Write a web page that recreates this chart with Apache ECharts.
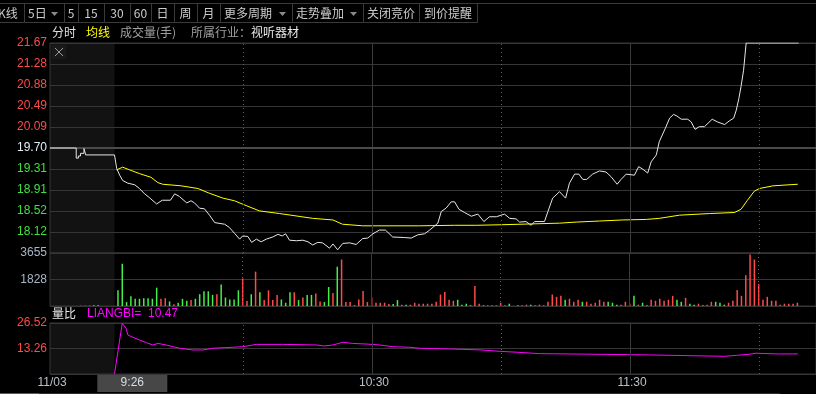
<!DOCTYPE html>
<html><head><meta charset="utf-8">
<script src="https://cdn.jsdelivr.net/npm/echarts@6/dist/echarts.min.js"></script>
<style>html,body{margin:0;padding:0;background:#000;}#c{width:816px;height:394px;}</style>
</head><body><div id="c"></div>
<script>
// ---------------- DATA ----------------
// x values are trading-minute indices: 0 = 9:15, 15 = 9:30, 135 = 11:30/13:00
const prevClose = 19.70;
const dateLabel = '11/03';
const cursorLabel = '9:26';
const cursorMin = 11;
const xTickMin = [75, 135];
const xTickLabels = ['10:30', '11:30'];
const solidLineMin = [75, 135];
const dottedLineMin = [45, 105, 165];
const auctionEndMin = 15;

// call-auction price (step)
const preT = [0, 6.1, 6.6, 7.1, 7.9, 8.3, 15];
const preV = [19.70, 19.51, 19.55, 19.60, 19.69, 19.57, 19.57];

// price
const priceT = [15,15.5,16.2,16.9,18.1,19.7,20.8,22.0,23.1,24.8,
26.1,28.0,29.0,30.1,31.8,32.8,33.6,34.8,35.9,37.1,
38.3,40.6,41.7,42.9,44.1,44.8,46.0,46.9,48.0,49.1,
50.3,51.8,53.0,54.0,54.8,55.7,57.3,58.8,60.0,61.1,
62.3,63.4,65.0,65.8,66.9,68.1,69.7,71.2,72.7,73.9,
75.1,76.6,78.0,79.7,82.4,84.0,85.5,87.1,88.3,90.2,
91.0,92.1,93.3,94.1,95.1,96.4,98.0,99.5,100.9,102.2,
103.8,105.7,106.9,108.4,109.2,110.7,111.9,112.7,115.0,115.8,
116.9,118.5,119.9,120.8,122.0,123.0,123.9,124.8,126.2,127.8,
129.3,130.5,131.9,132.8,134.0,135.9,136.9,137.9,139.0,139.8,
141.0,141.7,143.1,144.1,145.0,145.8,146.8,148.3,149.1,150.0,
151.0,152.2,154.0,155.2,156.9,158.0,159.0,159.6,160.2,160.7,
161.3,161.9,174.1];
const priceV = [19.57,19.32,19.19,19.09,19.04,19.01,18.94,18.84,18.77,18.65,
18.72,18.72,18.84,18.79,18.67,18.71,18.67,18.57,18.56,18.44,
18.30,18.27,18.21,18.10,17.99,18.05,18.04,17.93,17.99,17.94,
17.99,18.03,18.08,18.05,18.09,17.97,17.96,17.97,17.94,17.88,
17.93,17.92,17.82,17.90,17.79,17.91,17.92,17.89,18.00,18.01,
18.09,18.16,18.16,18.03,18.02,18.01,18.07,18.09,18.16,18.29,
18.51,18.57,18.69,18.69,18.55,18.49,18.42,18.46,18.32,18.41,
18.41,18.46,18.38,18.37,18.31,18.32,18.25,18.32,18.32,18.51,
18.76,18.88,18.76,19.04,19.21,19.21,19.11,19.11,19.21,19.27,
19.25,19.16,19.02,19.11,19.21,19.19,19.35,19.30,19.23,19.44,
19.57,19.82,20.07,20.26,20.33,20.30,20.24,20.24,20.19,20.05,
20.10,20.10,20.24,20.19,20.14,20.21,20.26,20.41,20.63,20.85,
21.16,21.67,21.67];

// average price
const avgT = [15.5,16.9,18.5,20.8,23.5,25.1,26.2,30.5,34.4,37.1,
40.2,42.9,45.6,48.7,53.4,61.1,65.8,68.0,72.7,85.9,
94.1,99.1,104.9,118.5,122.4,127.8,133.2,138.7,141.7,146.4,
153.4,159.2,160.7,162.2,163.8,165.0,168.1,173.9];
const avgV = [19.29,19.34,19.29,19.22,19.15,19.05,19.02,18.99,18.94,18.85,
18.76,18.71,18.62,18.52,18.47,18.38,18.35,18.27,18.24,18.24,
18.25,18.25,18.26,18.29,18.31,18.33,18.35,18.36,18.38,18.44,
18.47,18.49,18.55,18.72,18.89,18.94,18.99,19.02];

// volume (hands), one bar per minute starting at minute index volStart
const volStart = 16;
const volV = [1083,2911,271,677,496,496,542,542,496,1264,
496,542,316,113,226,496,361,406,496,812,
1015,1015,767,812,1489,587,451,451,1083,1895,
338,812,2369,948,406,1083,406,767,451,226,
948,948,406,587,767,767,857,316,271,1309,
903,2708,3204,271,271,45,451,1038,271,587,
226,226,226,135,135,406,90,90,90,226,
158,158,158,158,293,790,970,429,361,429,
90,158,50,1376,158,50,50,50,50,226,
50,158,0,50,50,90,90,50,90,50,
293,790,632,700,429,497,293,429,293,293,
158,226,429,293,293,226,90,90,293,158,
700,90,226,50,429,361,497,361,429,700,
429,293,564,158,90,158,50,90,293,293,
226,90,226,361,1105,700,2121,3543,3206,1512,
429,632,361,361,90,158,158,158,226];
const volUp = [0,0,0,0,0,0,0,0,0,0,
1,1,0,1,0,0,0,1,0,0,
0,0,0,1,0,0,0,0,0,1,
1,0,1,0,1,1,1,1,0,0,
0,1,0,1,0,0,1,1,0,0,
1,0,1,1,1,0,1,1,1,1,
1,1,1,1,0,0,1,0,1,1,
1,1,1,1,1,1,1,1,1,0,
0,0,0,1,1,0,1,1,1,1,
1,0,0,0,1,1,0,1,1,1,
1,1,1,1,0,1,1,1,0,1,
1,1,1,1,0,0,0,1,1,1,
0,1,0,0,1,1,1,1,1,1,
0,0,1,0,0,1,0,1,1,0,
0,0,1,1,1,1,1,1,1,1,
1,1,1,1,1,1,1,1,1];
const preVolT = [7, 8, 9, 10, 11];
const preVolV = [25, 25, 25, 45, 45];
const preVolUp = [2, 2, 2, 0, 0];

// volume ratio (LIANGBI)
const lbT = [15.0,16.8,17.1,17.7,18.1,19.3,20.8,22.4,23.9,25.1,
27.0,30.1,33.2,35.5,37.9,42.5,44.8,48.0,54.1,61.9,
63.8,65.8,68.1,70.4,73.5,76.6,79.7,83.6,85.9,93.3,
100.3,104.5,108.8,113.8,129.3,139.8,156.9,159.6,162.3,164.2,
169.7,173.9];
const lbV = [0,26.4,26.52,23.7,20.3,19.1,17.7,16.3,15.1,15.9,
15.1,13.4,12.5,12.5,13.4,13.9,14.2,15.4,15.4,15.1,
14.6,15.1,16.5,15.9,15.6,15.1,14.2,13.9,13.4,13.0,
12.5,11.8,11.3,10.6,10.2,9.9,9.2,9.7,10.2,10.8,
10.4,10.47];

// axis ranges
const priceMin = 17.73, priceMax = 21.67, priceStep = 0.394;
const volMax = 3655, volStep = 1827.5;
const lbMax = 26.52, lbStep = 13.26;

// toolbar
const toolbarItems = ['K线','5日','5','15','30','60','日','周','月','更多周期','走势叠加','关闭竞价','到价提醒'];
const subItems = ['分时','均线','成交量(手)','所属行业：','视听器材'];

// ---------------- CHART ----------------
const RED = '#ff4a4a', GREEN = '#44ee44', GRAY = '#9a9a9a';
const GRIDC = '#363636';
const NUMFONT = '"Liberation Sans", Arial, sans-serif';
const CJK = '"Noto Sans CJK SC", sans-serif';
const X_MAX = 766 / 4.3;

function pairs(t, v) { const o = []; for (let i = 0; i < Math.min(t.length, v.length); i++) o.push([t[i], v[i]]); return o; }
function vMark(extra) {
  const d = solidLineMin.map(m => ({ xAxis: m, lineStyle: { color: '#3a3a3a', width: 1, type: 'solid' } }))
    .concat(dottedLineMin.map(m => ({ xAxis: m, lineStyle: { color: '#5c5c5c', width: 1, type: [1, 3] } })));
  return { silent: true, symbol: ['none', 'none'], label: { show: false }, animation: false, data: d.concat(extra || []) };
}
const xBase = i => ({ type: 'value', gridIndex: i, min: 0, max: X_MAX, show: false });
const yCommon = {
  axisLine: { show: false }, axisTick: { show: false },
  splitLine: { show: true, lineStyle: { color: GRIDC, width: 1 } }
};

const volData = volV.map((v, i) => ({ value: [volStart + i, v], itemStyle: { color: volUp[i] ? RED : GREEN } }));
const preVolData = preVolV.map((v, i) => ({ value: [preVolT[i], v], itemStyle: { color: preVolUp[i] === 2 ? GRAY : (preVolUp[i] ? RED : GREEN) } }));

const chart = echarts.init(document.getElementById('c'));
chart.setOption({
  backgroundColor: '#000',
  animation: false,
  grid: [
    { left: 50, right: -1, top: 43, height: 210, show: true, borderColor: GRIDC, borderWidth: 1 },
    { left: 50, right: -1, top: 253, height: 53, show: true, borderColor: GRIDC, borderWidth: 1 },
    { left: 50, right: -1, top: 323, height: 51, show: true, borderColor: GRIDC, borderWidth: 1 }
  ],
  xAxis: [xBase(0), xBase(1), xBase(2)],
  yAxis: [
    Object.assign({ type: 'value', gridIndex: 0, min: priceMin, max: priceMax, interval: priceStep,
      axisLabel: { showMinLabel: false, margin: 3, fontSize: 12, fontFamily: NUMFONT, padding: [4, 0, 0, 0],
        formatter: v => v.toFixed(2),
        color: v => (v > prevClose + 0.005 ? RED : (v < prevClose - 0.005 ? '#3ee03e' : '#e4ecf6')) } }, yCommon),
    Object.assign({ type: 'value', gridIndex: 1, min: 0, max: volMax, interval: volStep,
      axisLabel: { showMinLabel: false, margin: 3, fontSize: 12, fontFamily: NUMFONT, padding: [4, 0, 0, 0], color: '#a9b6c6',
        formatter: v => String(Math.round(v)) } }, yCommon),
    Object.assign({ type: 'value', gridIndex: 2, min: 0, max: lbMax, interval: lbStep,
      axisLabel: { showMinLabel: false, margin: 3, fontSize: 12, fontFamily: NUMFONT, padding: [5, 0, 0, 0], color: RED,
        formatter: v => v.toFixed(2) } }, yCommon)
  ],
  series: [
    // reference lines only (drawn beneath the price lines)
    { type: 'line', xAxisIndex: 0, yAxisIndex: 0, data: pairs(preT, preV), showSymbol: false, z: 1,
      lineStyle: { opacity: 0 }, silent: true,
      markLine: vMark([{ yAxis: prevClose, lineStyle: { color: '#4a4a4a', width: 2, type: 'solid' } }]) },
    { type: 'line', xAxisIndex: 0, yAxisIndex: 0, data: pairs(preT, preV), step: 'end', showSymbol: false,
      lineStyle: { color: '#e6e6e6', width: 1 }, silent: true, z: 5 },
    { type: 'line', xAxisIndex: 0, yAxisIndex: 0, data: pairs(priceT, priceV), showSymbol: false,
      lineStyle: { color: '#e6e6e6', width: 1 }, silent: true, z: 5 },
    { type: 'line', xAxisIndex: 0, yAxisIndex: 0, data: pairs(avgT, avgV), showSymbol: false,
      lineStyle: { color: '#ffff00', width: 1 }, silent: true, z: 4 },
    { type: 'bar', xAxisIndex: 1, yAxisIndex: 1, data: volData, barWidth: 1.5, silent: true, markLine: vMark() },
    { type: 'bar', xAxisIndex: 1, yAxisIndex: 1, data: preVolData, barWidth: 1.5, silent: true },
    { type: 'line', xAxisIndex: 2, yAxisIndex: 2, data: pairs(lbT, lbV), showSymbol: false,
      lineStyle: { color: '#ff00ff', width: 1 }, silent: true, markLine: vMark() }
  ]
});

// ---------- graphics positioned through the axes ----------
const px = (m, g) => chart.convertToPixel({ xAxisIndex: g || 0 }, m);
const py = (v, g) => chart.convertToPixel({ yAxisIndex: g }, v);
const g = [];
const x0 = px(0), xA = px(auctionEndMin);
// auction shading
g.push({ type: 'rect', z: -10, silent: true, shape: { x: x0, y: py(priceMax, 0), width: xA - x0, height: py(0, 1) - py(priceMax, 0) }, style: { fill: '#121212' } });
g.push({ type: 'rect', z: -10, silent: true, shape: { x: x0, y: py(lbMax, 2), width: xA - x0, height: py(0, 2) - py(lbMax, 2) }, style: { fill: '#121212' } });
// close icon
g.push({ type: 'rect', z: -5, shape: { x: 52, y: 45, width: 14, height: 14 }, style: { fill: '#1a1a1a' } });
g.push({ type: 'line', shape: { x1: 55, y1: 48, x2: 63, y2: 56 }, style: { stroke: '#9a9a9a', lineWidth: 1 } });
g.push({ type: 'line', shape: { x1: 63, y1: 48, x2: 55, y2: 56 }, style: { stroke: '#9a9a9a', lineWidth: 1 } });

// toolbar
const btnEdges = [-4, 24, 64, 78, 104, 130, 151, 174, 197, 220, 292, 363, 419, 477];
const btnArrow = { 1: true, 9: true, 10: true };
g.push({ type: 'line', shape: { x1: 0, y1: 3.5, x2: 816, y2: 3.5 }, style: { stroke: '#3a3a3a', lineWidth: 1 } });
toolbarItems.forEach((t, i) => {
  const a = btnEdges[i], b = btnEdges[i + 1];
  g.push({ type: 'rect', shape: { x: a + 0.5, y: 3.5, width: b - a, height: 19 }, style: { fill: 'none', stroke: '#3a3a3a', lineWidth: 1 } });
  const arrow = btnArrow[i];
  const cx = i === 0 ? -2 : (arrow ? a + 4 : (a + b) / 2);
  g.push({ type: 'text', x: cx, y: 13.5, style: { text: t, fill: '#cccccc', font: '12px ' + CJK, align: (i === 0 || arrow) ? 'left' : 'center', verticalAlign: 'middle' } });
  if (arrow) g.push({ type: 'polygon', shape: { points: [[b - 13, 12], [b - 6, 12], [b - 9.5, 16]] }, style: { fill: '#8a8a8a' } });
});
// sub header
const subX = [52, 86, 120, 191, 251];
const subC = ['#e0e0e0', '#ffff00', '#a0a0a0', '#a0a0a0', '#e8e8e8'];
subItems.forEach((t, i) => g.push({ type: 'text', x: subX[i], y: 32, style: { text: t, fill: subC[i], font: '12px ' + CJK, verticalAlign: 'middle' } }));

// LIANGBI header
g.push({ type: 'text', x: 52, y: 313.5, style: { text: '量比', fill: '#e8e8e8', font: '12px ' + CJK, verticalAlign: 'middle' } });
g.push({ type: 'text', x: 87, y: 314, style: { text: 'LIANGBI=', fill: '#ff00ff', font: '12px ' + NUMFONT, verticalAlign: 'middle' } });
g.push({ type: 'text', x: 148, y: 314, style: { text: lbV[lbV.length - 1].toFixed(2), fill: '#ff00ff', font: '12px ' + NUMFONT, verticalAlign: 'middle' } });

// x labels
const yLab = 383;
g.push({ type: 'text', x: px(0, 2) + 2, y: yLab, style: { text: dateLabel, fill: '#b8c0c8', font: '12px ' + NUMFONT, align: 'center', verticalAlign: 'middle' } });
const cx0 = px(cursorMin, 2);
g.push({ type: 'rect', shape: { x: cx0, y: 375, width: 70, height: 17 }, style: { fill: '#474747' } });
g.push({ type: 'text', x: cx0 + 35, y: yLab, style: { text: cursorLabel, fill: '#d8dde2', font: '12px ' + NUMFONT, align: 'center', verticalAlign: 'middle' } });
xTickMin.forEach((m, i) => g.push({ type: 'text', x: px(m, 2) + 1.5, y: yLab, style: { text: xTickLabels[i], fill: '#b8c0c8', font: '12px ' + NUMFONT, align: 'center', verticalAlign: 'middle' } }));
// bottom tab strip
g.push({ type: 'line', shape: { x1: 0, y1: 393.5, x2: 780, y2: 393.5 }, style: { stroke: '#2c2c2c', lineWidth: 1 } });
g.push({ type: 'line', shape: { x1: 0, y1: 393.5, x2: 39, y2: 393.5 }, style: { stroke: '#5a5a5a', lineWidth: 1 } });

chart.setOption({ graphic: g });
</script>
</body></html>
